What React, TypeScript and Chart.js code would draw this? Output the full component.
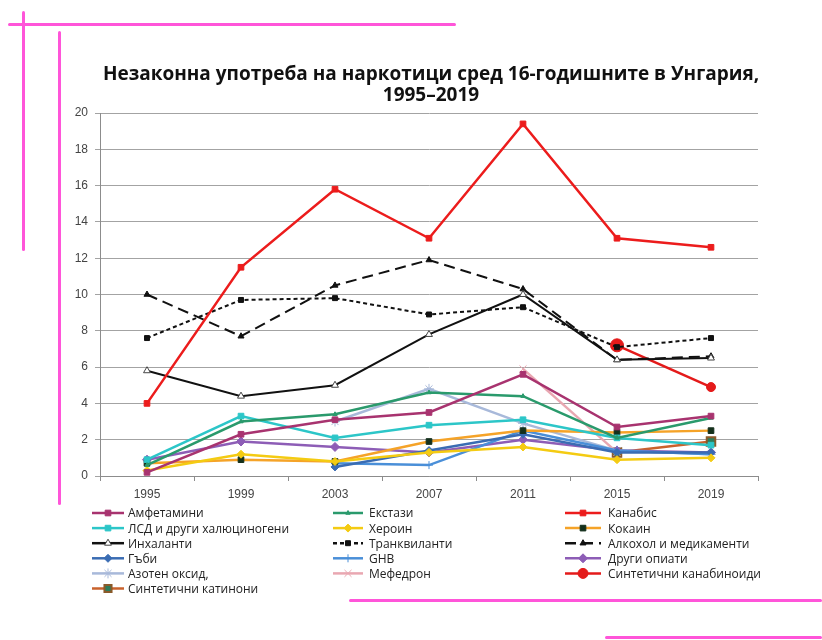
import React, { useEffect, useRef } from "react";
import { Chart, registerables } from "chart.js";
import { drawPoint } from "chart.js/helpers";

Chart.register(...registerables);

const years = ["1995", "1999", "2003", "2007", "2011", "2015", "2019"];

const amfetamini = [0.2, 2.3, 3.1, 3.5, 5.6, 2.7, 3.3];
const ekstazi = [0.6, 3.0, 3.4, 4.6, 4.4, 2.1, 3.2];
const kanabis = [4.0, 11.5, 15.8, 13.1, 19.4, 13.1, 12.6];
const lsd = [0.9, 3.3, 2.1, 2.8, 3.1, 2.1, 1.7];
const heroin = [0.3, 1.2, 0.8, 1.3, 1.6, 0.9, 1.0];
const kokain = [0.7, 0.9, 0.8, 1.9, 2.5, 2.4, 2.5];
const inhalanti = [5.8, 4.4, 5.0, 7.8, 10.0, 6.4, 6.5];
const trankvilanti = [7.6, 9.7, 9.8, 8.9, 9.3, 7.1, 7.6];
const alkohol = [10.0, 7.7, 10.5, 11.9, 10.3, 6.4, 6.6];
const gabi = [null, null, 0.5, 1.4, 2.3, 1.3, 1.3];
const ghb = [null, null, 0.7, 0.6, 2.5, 1.4, 1.2];
const drugiOpiati = [0.9, 1.9, 1.6, 1.3, 2.0, 1.4, 1.3];
const azotenOksid = [null, null, 3.0, 4.8, 2.9, 1.4, 1.2];
const mefedron = [null, null, null, null, 5.9, 1.3, null];
const sintKanabinoidi = [null, null, null, null, null, 7.2, 4.9];
const sintKatinoni = [null, null, null, null, null, 1.3, 1.9];

const seriesLabels = [
  "Амфетамини",
  "Екстази",
  "Канабис",
  "ЛСД и други халюциногени",
  "Хероин",
  "Кокаин",
  "Инхаланти",
  "Транквиланти",
  "Алкохол и медикаменти",
  "Гъби",
  "GHB",
  "Други опиати",
  "Азотен оксид,",
  "Мефедрон",
  "Синтетични канабиноиди",
  "Синтетични катинони",
];

const yTicks = [0, 2, 4, 6, 8, 10, 12, 14, 16, 18, 20];

const titleLines = [
  "Незаконна употреба на наркотици сред 16-годишните в Унгария,",
  "1995–2019",
];

const PINK = "#ff55d9";

function ds(
  label: string,
  data: (number | null)[],
  color: string,
  pointStyle: string,
  radius: number | number[],
  extra: any = {}
) {
  return {
    label,
    data,
    borderColor: color,
    backgroundColor: color,
    pointBackgroundColor: color,
    pointBorderColor: color,
    pointStyle,
    pointRadius: radius,
    pointBorderWidth: 1,
    borderWidth: 2.5,
    spanGaps: false,
    ...extra,
  };
}

const legendPlugin = {
  id: "gridLegend",
  afterDraw(chart: any) {
    const ctx = chart.ctx;
    const colMarker = [92, 333, 565];
    const colText = [128, 369, 608];
    const colLen = [32, 30, 36];
    const rowY0 = 513;
    const rowH = 15.1;
    chart.data.datasets.forEach((d: any, i: number) => {
      const col = i % 3;
      const row = Math.floor(i / 3);
      const x = colMarker[col];
      const len = colLen[col];
      const y = rowY0 + row * rowH;
      const r = Array.isArray(d.pointRadius) ? 5 : Math.min(d.pointRadius, 5);
      ctx.save();
      ctx.strokeStyle = d.borderColor;
      ctx.lineWidth = 2.5;
      ctx.setLineDash(d.borderDash || []);
      ctx.beginPath();
      ctx.moveTo(x, y);
      ctx.lineTo(x + len, y);
      ctx.stroke();
      ctx.setLineDash([]);
      ctx.fillStyle = d.pointBackgroundColor;
      ctx.strokeStyle = d.pointBorderColor;
      ctx.lineWidth = d.pointBorderWidth || 1;
      drawPoint(
        ctx,
        {
          pointStyle: d.pointStyle,
          radius: r,
          rotation: 0,
          borderWidth: d.pointBorderWidth || 1,
        },
        x + len / 2,
        y
      );
      ctx.fillStyle = "#222";
      ctx.font = '12px "Open Sans"';
      ctx.textAlign = "left";
      ctx.textBaseline = "middle";
      ctx.fillText(d.label, colText[col], y + 1);
      ctx.restore();
    });
  },
};

export default function App() {
  const ref = useRef<HTMLCanvasElement | null>(null);

  useEffect(() => {
    if (!ref.current) return;
    const datasets = [
      ds(seriesLabels[0], amfetamini, "#a8336f", "rect", 4),
      ds(seriesLabels[1], ekstazi, "#2a9a6c", "triangle", 2.5),
      ds(seriesLabels[2], kanabis, "#ec1c1c", "rect", 4),
      ds(seriesLabels[3], lsd, "#2cc6c8", "rect", 4),
      ds(seriesLabels[4], heroin, "#f4cb12", "rectRot", 4),
      ds(seriesLabels[5], kokain, "#f5a328", "rect", 4, {
        pointBackgroundColor: "#14301c",
        pointBorderColor: "#14301c",
      }),
      ds(seriesLabels[6], inhalanti, "#111111", "triangle", 4, {
        pointBackgroundColor: "#ffffff",
        pointBorderColor: "#444444",
        borderWidth: 2,
      }),
      ds(seriesLabels[7], trankvilanti, "#111111", "rect", 3.5, {
        borderDash: [4, 3],
        borderWidth: 2,
      }),
      ds(seriesLabels[8], alkohol, "#111111", "triangle", 3.5, {
        borderDash: [11, 6],
        borderWidth: 2,
      }),
      ds(seriesLabels[9], gabi, "#3a6cb3", "rectRot", 4),
      ds(seriesLabels[10], ghb, "#4a8fd8", "cross", 4),
      ds(seriesLabels[11], drugiOpiati, "#8d5db6", "rectRot", 4.5),
      ds(seriesLabels[12], azotenOksid, "#a8b9da", "star", 5),
      ds(seriesLabels[13], mefedron, "#e9a7b1", "crossRot", 5),
      ds(seriesLabels[14], sintKanabinoidi, "#e41a1a", "circle", [0, 0, 0, 0, 0, 6.5, 4.5]),
      ds(seriesLabels[15], sintKatinoni, "#c9622c", "rect", 6, {
        pointBackgroundColor: "#2d7c5b",
        pointBorderColor: "#8a5a2a",
        pointBorderWidth: 2,
      }),
    ];

    const chart = new Chart(ref.current, {
      type: "line",
      data: { labels: years, datasets: datasets as any },
      options: {
        animation: false,
        responsive: false,
        layout: { padding: { left: 60, right: 64, top: 113, bottom: 134 } },
        plugins: {
          legend: { display: false },
          title: { display: false },
          tooltip: { enabled: false },
        },
        scales: {
          x: {
            offset: true,
            afterFit: (s: any) => {
              s.height = 30;
            },
            grid: {
              offset: true,
              drawOnChartArea: false,
              drawTicks: true,
              tickLength: 5,
              color: "#8c8c8c",
            },
            border: { color: "#8c8c8c", width: 1 },
            ticks: {
              padding: 6,
              color: "#444",
              font: { family: "Liberation Sans", size: 12 },
            },
          },
          y: {
            min: 0,
            max: 20,
            afterFit: (s: any) => {
              s.width = 40;
            },
            afterBuildTicks: (s: any) => {
              s.ticks = yTicks.map((v) => ({ value: v }));
            },
            grid: {
              color: "#a3a3a3",
              tickLength: 5,
              lineWidth: 1,
            },
            border: { color: "#8c8c8c", width: 1 },
            ticks: {
              padding: 7,
              color: "#444",
              font: { family: "Liberation Sans", size: 12 },
            },
          },
        },
      },
      plugins: [legendPlugin],
    });
    return () => chart.destroy();
  }, []);

  const line = (s: React.CSSProperties) => (
    <div style={{ position: "absolute", background: PINK, borderRadius: 2, ...s }} />
  );

  return (
    <div
      style={{
        position: "fixed",
        left: 0,
        top: 0,
        width: 822,
        height: 640,
        background: "#fff",
        overflow: "hidden",
      }}
    >
      <canvas ref={ref} width={822} height={640} style={{ position: "absolute", left: 0, top: 0 }} />
      <div
        style={{
          position: "absolute",
          left: 0,
          width: 862,
          top: 63,
          textAlign: "center",
          fontFamily: '"Open Sans", sans-serif',
          fontWeight: 700,
          fontSize: 19,
          lineHeight: "21px",
          color: "#111",
        }}
      >
        <div>{titleLines[0]}</div>
        <div>{titleLines[1]}</div>
      </div>
      {line({ left: 8, top: 23, width: 448, height: 3 })}
      {line({ left: 22, top: 11, width: 3, height: 240 })}
      {line({ left: 58, top: 31, width: 3, height: 474 })}
      {line({ left: 349, top: 599, width: 473, height: 3 })}
      {line({ left: 605, top: 636, width: 217, height: 3 })}
    </div>
  );
}
